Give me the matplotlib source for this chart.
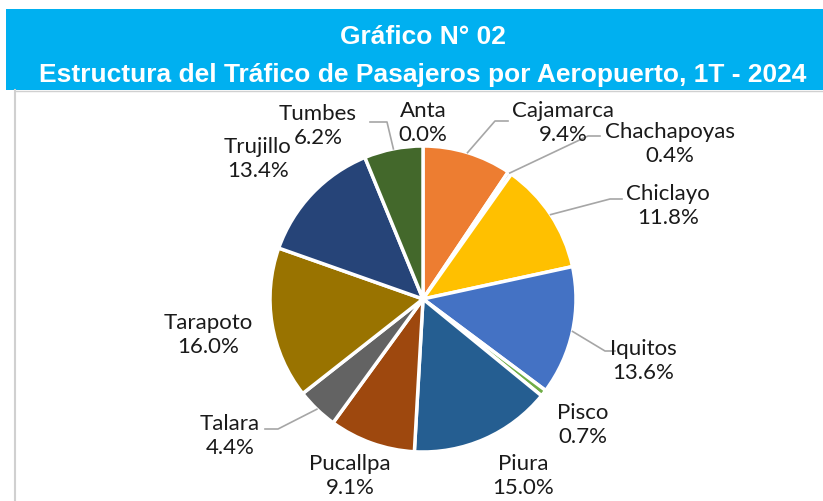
import matplotlib
matplotlib.use("Agg")
import matplotlib.pyplot as plt
import numpy as np
from matplotlib.patches import Rectangle

# ---- data ----
airports = ["Anta", "Cajamarca", "Chachapoyas", "Chiclayo", "Iquitos", "Pisco",
            "Piura", "Pucallpa", "Talara", "Tarapoto", "Trujillo", "Tumbes"]
shares = [0.0, 9.4, 0.4, 11.8, 13.6, 0.7, 15.0, 9.1, 4.4, 16.0, 13.4, 6.2]
colors = ["#5B9BD5", "#ED7D31", "#A5A5A5", "#FFC000", "#4472C4", "#70AD47",
          "#255E91", "#9E480E", "#636363", "#997300", "#264478", "#43682B"]
title1 = "Gráfico N° 02"
title2 = "Estructura del Tráfico de Pasajeros por Aeropuerto, 1T - 2024"

W, H = 823, 502
fig = plt.figure(figsize=(W / 100, H / 100), dpi=100)
fig.patch.set_facecolor("white")

# background axes in pixel coordinates
bg = fig.add_axes([0, 0, 1, 1])
bg.set_xlim(0, W)
bg.set_ylim(H, 0)
bg.axis("off")
bg.add_patch(Rectangle((6, 10), W, 81, facecolor="#00B0F0", edgecolor="none"))
bg.plot([15, W], [91.5, 91.5], color="#D0D0D0", lw=1)
bg.plot([15, 15], [91, H], color="#D0D0D0", lw=1.5)
bg.text(423, 37, title1, ha="center", va="center", color="white",
        fontsize=19, fontweight="bold", family="Liberation Sans")
bg.text(423, 75, title2, ha="center", va="center", color="white",
        fontsize=19, fontweight="bold", family="Liberation Sans")

# pie axes
cx, cy, R = 423, 300, 153
ax = fig.add_axes([(cx - R) / W, (H - cy - R) / H, 2 * R / W, 2 * R / H])
ax.pie(shares, colors=colors, startangle=90, counterclock=False, radius=1,
       wedgeprops=dict(edgecolor="white", linewidth=2.5))
ax.set_xlim(-1, 1)
ax.set_ylim(-1, 1)
ax.set_aspect("equal")
ax.axis("off")

def to_data(px, py):
    return (px - cx) / R, (cy - py) / R

label_pos = [(423, 123), (563, 123), (670, 144), (668, 206), (643, 361),
             (583, 425), (523, 476), (350, 476), (230, 436), (208, 335),
             (258, 159), (318, 126)]
# leader line: (elbow, end) in pixels or None
leaders = [None, ((495, 122), (508, 122)), ((588, 137), (600, 137)),
           ((610, 200), (622, 200)), ((605, 352), (615, 352)), None, None, None,
           ((278, 430), (265, 430)), None, None, ((387, 123), (370, 123))]

total = sum(shares)
angle = 90.0
for name, v, pos, ld in zip(airports, shares, label_pos, leaders):
    mid = angle - 360 * v / total / 2
    angle -= 360 * v / total
    x, y = to_data(*pos)
    ax.text(x, y, f"{name}\n{v:.1f}%", ha="center", va="center",
            fontsize=16, family="Lato", color="#1a1a1a", linespacing=1.2,
            clip_on=False)
    if ld is not None:
        sx, sy = np.cos(np.radians(mid)), np.sin(np.radians(mid))
        ex, ey = to_data(*ld[0])
        fx, fy = to_data(*ld[1])
        ax.plot([sx, ex, fx], [sy, ey, fy], color="#A6A6A6", lw=1.2,
                clip_on=False)

fig.savefig("out.png", dpi=100)
